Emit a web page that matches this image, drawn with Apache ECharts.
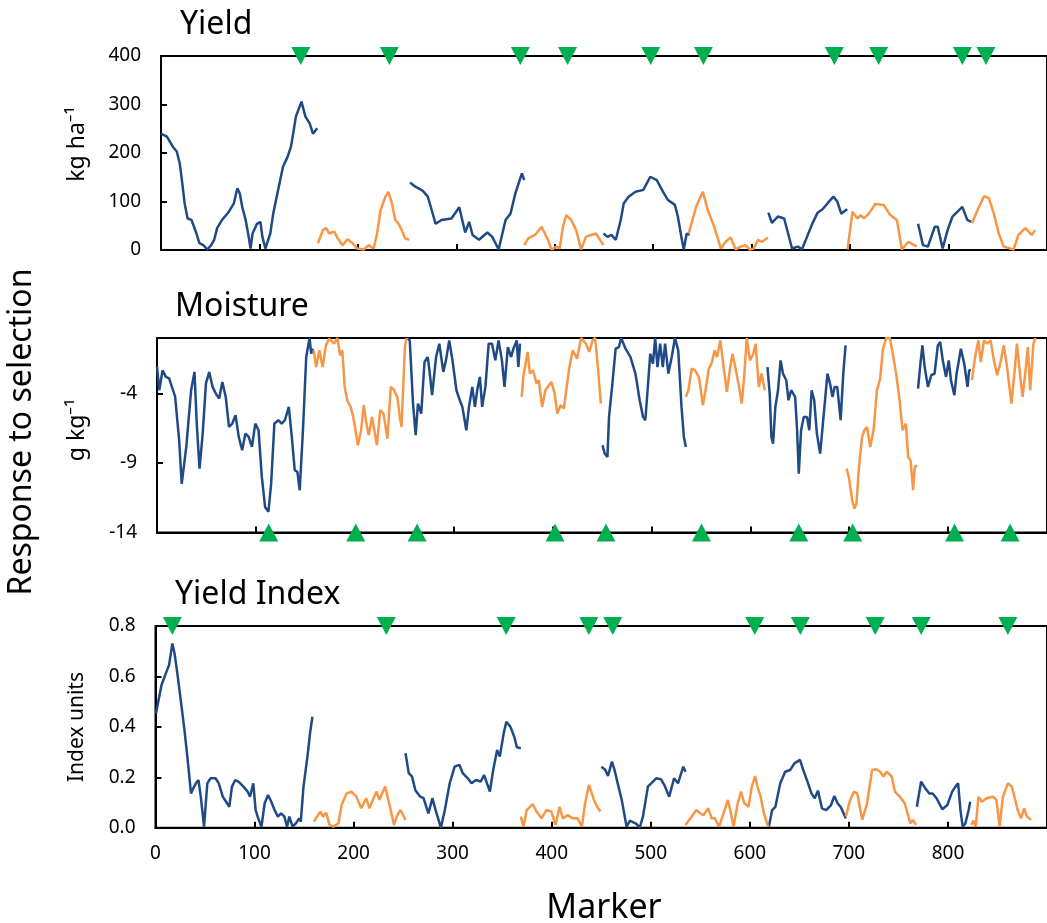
<!DOCTYPE html>
<html>
<head>
<meta charset="utf-8">
<script src="https://cdn.jsdelivr.net/npm/echarts@6/dist/echarts.min.js"></script>
<style>html,body{margin:0;padding:0;background:#fff;}#c{width:1047px;height:923px;}</style>
</head>
<body>
<div id="c"></div>
<script>
// ---------- DATA ----------
const panelTitles = ['Yield', 'Moisture', 'Yield Index'];
const unitNames = ['kg ha⁻¹', 'g kg⁻¹', 'Index units'];

// Yield (kg ha-1)
const yieldBlue = [
  [[0,240],[6,234],[12,213],[16,203],[19,179],[22,131],[24,96],[27,65],[31,62],[36,34],[39,14],[43,10],[47,1],[51,10],[54,21],[57,45],[62,62],[69,79],[74,96],[77.5,127],[80,117],[82.5,89],[86,62],[88.5,34],[91,3],[93,34],[97.5,54],[101,58],[103,27],[106,3],[108,3],[111,34],[114,75],[119,124],[124,172],[128.6,192],[132,213],[134.3,240],[137,275],[142.7,306],[146.7,275],[151,261],[154.4,240],[158.7,251]],
  [[253,139],[258,131],[266,122],[271,110],[275,82],[279,54],[285,62],[295,65],[303,88],[306,62],[309,36],[313,58],[316.5,31],[323,21],[331.5,36],[336.5,27],[343,1],[350,62],[355,75],[360,117],[366.6,158],[369,144]],
  [[449.5,34],[453.5,27],[457.5,31],[462,21],[467,62],[470,96],[475,110],[482,120],[490,124],[497,151],[503.6,144],[510,120],[515,103],[522,93],[525,69],[528.6,27],[531,1],[534,34],[537,31]],
  [[617,77],[620.5,56],[626.6,69],[633,65],[637,34],[641,3],[647,7],[651,1],[655.6,24],[662,56],[667,77],[672,84],[677,96],[683,110],[687,100],[691,75],[697,84]],
  [[769,54],[774,10],[779,7],[786,48],[789,48],[794,3],[799,41],[804,69],[814,89],[819,62],[823,58]]
];
const yieldOrange = [
  [[159.4,14],[164.4,41],[167.7,45],[171,34],[176,38],[179.5,24],[184.5,10],[189.5,22],[194.5,14],[199.5,3],[206,1],[211,10],[216,3],[219.5,34],[223,82],[228,110],[231,120],[234.6,96],[238,62],[241,55],[244.6,41],[248,24],[252.3,21]],
  [[369,10],[373,24],[380,31],[386.6,48],[393,21],[396.7,1],[401.7,7],[405,3],[408.3,48],[411.7,72],[416.7,62],[421.7,41],[426.7,1],[431.7,27],[436.7,31],[441.8,34],[445,24],[449.5,10]],
  [[536,34],[543.6,89],[550.4,120],[555.4,82],[562,48],[568.7,3],[573.7,17],[578.7,26],[583.7,1],[588.7,7],[593.8,10],[597.8,1],[602,3],[606.5,21],[610.5,17],[616.5,26]],
  [[697.4,1],[702.4,79],[707.4,65],[710.7,72],[714,65],[719,75],[725.6,95],[734,93],[740.8,72],[747.5,62],[752.6,1],[759.3,17],[767.6,7]],
  [[823.8,55],[829.4,82],[836,111],[841,107],[846,75],[851,34],[856,7],[866,1],[871,31],[878,45],[884.5,31],[888,41]]
];
const yieldMarkers = [142, 232, 365, 413, 497.5, 551, 684, 729, 814, 838];

// Moisture (g kg-1)
const moistBlue = [
  [[0,-2.04],[2.3,-3.76],[5.6,-2.33],[9,-2.8],[12.3,-2.9],[15,-3.5],[18.3,-4.2],[22.4,-7.36],[25,-10.5],[29.6,-7.84],[34.5,-3.76],[37.9,-2.44],[40.2,-6.16],[43,-9.4],[46.2,-6.88],[49.5,-3.28],[52.8,-2.44],[56.2,-3.52],[59.5,-4.0],[62.8,-4.36],[66.1,-3.16],[69.5,-4.24],[72.8,-6.4],[76.1,-6.16],[79.4,-5.56],[82.7,-7.12],[86.1,-8.08],[89.4,-6.88],[92.7,-7.12],[96,-7.84],[99.4,-6.16],[102.7,-6.64],[106,-10],[109.3,-12.16],[112.7,-12.5],[115.4,-10.5],[118.7,-6.16],[122.7,-5.92],[126,-6.16],[129.3,-5.92],[133.3,-4.96],[136,-6.88],[139.3,-9.52],[142,-9.64],[144.3,-10.96],[147.6,-6.64],[150.9,-1.37],[154.3,0],[155.9,-1.13],[157.6,-0.77]],
  [[253,0],[255.6,-0.17],[258.9,-4.72],[261.6,-7],[263.9,-4.72],[267.2,-5.44],[270.5,-1.73],[273.8,-1.37],[275.5,-2.33],[278.2,-4.12],[282.2,-1.37],[285.5,-0.41],[289.5,-2.44],[292.2,-1.61],[295.5,-0.17],[298.8,-1.61],[302.8,-3.76],[306.2,-4.48],[308.8,-4.96],[312.8,-6.64],[315.5,-4.96],[318.8,-3.52],[321.5,-4.96],[323.8,-3.76],[326.5,-2.8],[328.8,-4.96],[332.1,-3.52],[335.4,-0.41],[338.8,-0.41],[342.1,-1.61],[345.4,-0.17],[348.8,-1.61],[351.4,-3.52],[354.8,-0.65],[358.1,-1.37],[360.4,-0.77],[363.8,-0.17],[365.4,-2.09],[367.1,-0.41]],
  [[450.5,-7.72],[452.8,-8.32],[455.5,-8.56],[457.1,-5.68],[460.5,-3.28],[463.8,-0.77],[467.1,-0.65],[469.4,0],[473.8,-0.77],[478.8,-1.37],[483.8,-2.56],[488.1,-4.48],[491.5,-5.68],[493.8,-5.92],[496.1,-3.76],[498.8,-1.13],[501.5,-1.85],[503.8,0],[506.1,-2.09],[508.8,-0.41],[511.5,-2.09],[513.8,-0.41],[517.1,-2.56],[520.5,-1.37],[523.8,0],[527.1,-0.89],[530.4,-4.96],[532.8,-7.12],[534.8,-7.84]],
  [[617.3,-2.09],[619.6,-4.0],[621.3,-7.12],[623,-7.6],[625.3,-4.96],[628,-3.76],[630.6,-1.61],[633,-2.56],[636.3,-3.04],[638.6,-4.48],[641.3,-3.76],[645.3,-4.24],[647.3,-6.64],[649,-9.76],[651.3,-6.64],[654,-5.68],[657.3,-5.68],[659.6,-6.64],[662,-3.76],[664.6,-4.48],[667.3,-6.88],[670.6,-8.32],[674,-5.68],[678,-2.56],[680.6,-3.28],[683,-4.24],[685.3,-3.52],[687.9,-3.52],[691.3,-5.92],[694,-2.56],[696.3,-0.53]],
  [[769.6,-3.64],[772,-1.85],[774,-0.53],[776.3,-2.09],[779.6,-3.52],[783,-2.68],[786.3,-2.56],[789.6,-0.53],[792,-0.29],[794.6,-1.61],[797.9,-2.8],[800.6,-1.61],[802.9,-3.04],[806.3,-4.12],[808.6,-2.56],[812.9,-0.77],[816.3,-1.85],[819.6,-3.52],[821.3,-2.33],[823,-2.33]]
];
const moistOrange = [
  [[158.5,-0.89],[160.9,-2.09],[164.2,-0.89],[167.5,-2.09],[170.8,-0.53],[174.1,-0.05],[179.1,-0.41],[182.4,0],[185.1,-1.25],[187.4,-0.89],[189.8,-3.52],[192.4,-4.48],[195.8,-4.96],[198.4,-5.68],[200.8,-6.64],[203.1,-7.72],[206.4,-6.64],[209.1,-4.84],[211.7,-6.16],[214.1,-7.0],[217.4,-5.68],[219.7,-6.64],[222.4,-7.72],[225.7,-5.2],[229,-5.44],[233,-7.24],[236.4,-3.52],[239.7,-3.76],[243,-4.24],[245.7,-5.8],[247.3,-6.4],[250.7,-0.65],[252.3,0]],
  [[368.8,-4.24],[370.4,-2.8],[374.8,-1.0],[377.1,-2.56],[380.4,-2.33],[383.8,-3.28],[386.1,-3.04],[389.4,-4.96],[392.8,-3.76],[398.8,-3.16],[402.1,-4.0],[404.8,-5.44],[408.1,-4.84],[411.4,-5.08],[413.8,-3.76],[417.1,-2.09],[420.4,-0.89],[424.8,-1.49],[428.8,0],[433.8,-0.41],[437.1,-1.0],[440.5,-0.17],[443.1,0],[446.1,-2.33],[448.8,-4.72]],
  [[534.7,-4.24],[537.4,-3.76],[540.7,-2.2],[544,-2.33],[548,-2.8],[552,-4.84],[554.7,-3.76],[558,-2.2],[560.7,-1.85],[564,-0.89],[566.3,-1.37],[569.7,-0.17],[573,-2.09],[576.3,-3.88],[579.7,-2.09],[582,-1.13],[584.7,-2.09],[588,-3.28],[591.3,-4.72],[594,-2.56],[596.3,0],[599.6,-1.61],[603,-1.13],[605.3,-0.41],[608.6,-3.52],[611.3,-2.56],[614.6,-3.76]],
  [[697.3,-9.4],[699.6,-10],[703,-11.68],[705.3,-12.28],[707.3,-11.92],[709.6,-9.52],[713,-7.12],[715.3,-6.64],[717.9,-6.4],[721.3,-7.84],[724.6,-6.64],[728,-3.76],[731.3,-2.92],[733.9,-0.89],[737.3,0],[741.2,0],[744.6,-1.37],[747.9,-2.8],[751.3,-4.72],[753.9,-6.64],[757.3,-6.16],[759.6,-8.56],[762,-8.8],[764.6,-10.96],[766.3,-9.28],[768.6,-9.16]],
  [[824,-3.04],[827.3,-1.37],[830.6,-0.17],[833,-1.73],[836.3,-0.17],[839.6,-0.41],[843,-0.17],[846.3,-1.61],[849.6,-2.68],[853,-1.73],[856.3,-0.53],[859.6,-2.09],[864,-4.72],[867.3,-2.33],[869.6,-0.41],[873,-2.8],[875.3,-4.24],[878,-2.56],[880.6,-0.65],[883,-3.76],[886.3,-0.41],[888.3,0]]
];
const moistMarkers = [113, 201, 263, 402.5, 454, 550.6, 649, 703.5, 806.5, 862.7];

// Yield Index (index units)
const indexBlue = [
  [[0.5,0.453],[3.8,0.52],[6.1,0.566],[7.8,0.56],[11.1,0.619],[13.7,0.645],[17,0.731],[19.2,0.692],[22.5,0.599],[25.9,0.493],[29.2,0.388],[32.5,0.269],[35.8,0.136],[38.1,0.156],[40.8,0.176],[43.4,0.189],[45.7,0.123],[49,0.004],[52.3,0.176],[55.6,0.196],[60.6,0.196],[63.9,0.176],[67.9,0.123],[72.2,0.097],[74.5,0.083],[77.2,0.163],[80.5,0.189],[83.8,0.183],[88.8,0.163],[93.1,0.143],[95.4,0.123],[98.7,0.176],[101.1,0.07],[103.7,0.037],[107,0.004],[110.2,0.097],[113.6,0.13],[116.9,0.103],[120.2,0.07],[123.5,0.044],[126.8,0.057],[130.1,0.044],[132.8,0.004],[135.1,0.044],[138.4,0.004],[141.7,0.017],[145,0.037],[146.7,0.024],[149.4,0.163],[153.4,0.282],[156,0.374],[158.4,0.44]],
  [[252.4,0.295],[255.7,0.216],[259,0.203],[262.3,0.149],[267.3,0.123],[270.6,0.117],[275.5,0.057],[279.5,0.117],[282.8,0.07],[288.1,0],[292.1,0.07],[297,0.176],[302,0.242],[306.9,0.249],[310.2,0.216],[315.2,0.196],[319.1,0.176],[323.4,0.189],[328.4,0.183],[331.7,0.209],[337.6,0.143],[340.9,0.229],[344.9,0.308],[347.6,0.282],[351.5,0.374],[354.2,0.42],[358.2,0.401],[362.2,0.361],[364.8,0.319],[368.8,0.315]],
  [[450.2,0.242],[454.2,0.229],[456.8,0.205],[460.8,0.262],[463.4,0.229],[467.4,0.163],[470.7,0.11],[475.6,0.004],[478.9,0.028],[485.5,0.015],[488.8,0],[492.1,0.044],[497.1,0.163],[500.4,0.176],[505.4,0.196],[510.3,0.192],[513.6,0.17],[518.6,0.123],[523.5,0.196],[527.5,0.176],[532.8,0.242],[535.1,0.222]],
  [[619.2,0.004],[622.5,0.07],[625.8,0.083],[630.7,0.176],[635.7,0.222],[640.7,0.229],[645,0.255],[650.6,0.269],[653.9,0.229],[658.2,0.183],[662.2,0.136],[665.5,0.117],[668.8,0.147],[672.8,0.077],[677.1,0.07],[682,0.09],[685.3,0.126],[688.6,0.097],[691.9,0.081],[696.9,0.037]],
  [[768.6,0.083],[772.9,0.183],[777.2,0.156],[781.2,0.136],[784.5,0.136],[788.4,0.117],[794.4,0.073],[799.4,0.09],[804.3,0.143],[807.6,0.163],[810.3,0.176],[812.6,0.07],[814.9,0.004],[817.6,0.017],[820.9,0.07],[822.5,0.103]]
];
const indexOrange = [
  [[159.8,0.024],[163.1,0.044],[166.4,0.064],[169.1,0.044],[172.3,0.06],[175.6,0.011],[179.6,0.004],[184.6,0.017],[187.9,0.09],[192.9,0.136],[197.8,0.143],[202.8,0.123],[207.7,0.077],[212.7,0.117],[216,0.077],[219.3,0.11],[223.2,0.143],[225.9,0.11],[231.9,0.163],[235.8,0.097],[240.8,0.011],[244.1,0.05],[247.4,0.07],[252.4,0.031]],
  [[368.8,0.044],[371.5,0.004],[374.8,0.07],[380.7,0.094],[384.7,0.064],[389.7,0.037],[394.6,0.07],[399.6,0.064],[403.9,0.011],[407.9,0.083],[411.2,0.037],[416.2,0.05],[421.1,0.037],[426.1,0.037],[430.4,0.004],[433.7,0.097],[437.6,0.17],[442.6,0.11],[445.9,0.083],[449.2,0.064]],
  [[535,0.011],[540,0.037],[545.9,0.07],[549.9,0.057],[553.2,0.05],[558.1,0.077],[561.4,0.037],[564.7,0.037],[569,0.004],[572.3,0.044],[577.9,0.11],[580.2,0.07],[583.5,0.004],[587.8,0.097],[591.1,0.143],[594.4,0.097],[598.7,0.083],[602,0.163],[605.3,0.205],[607.6,0.163],[610.9,0.123],[614.2,0.057],[618.5,0.004]],
  [[696.9,0.044],[701.2,0.11],[705.2,0.143],[708.5,0.136],[713.4,0.031],[718.4,0.097],[723.4,0.229],[727.7,0.232],[731.6,0.222],[734.9,0.203],[738.2,0.222],[743.2,0.203],[746.5,0.143],[751.4,0.123],[756.4,0.097],[762,0.017],[764.6,0.031],[767.9,0.011]],
  [[823.5,0.011],[825.8,0.028],[828.1,0.004],[830.8,0.123],[834.1,0.103],[839,0.117],[845.6,0.123],[848.9,0.11],[852.2,0.004],[855.5,0.123],[860.5,0.176],[864.5,0.163],[867.1,0.123],[870.4,0.07],[873.7,0.037],[877,0.077],[879.7,0.044],[884,0.031]]
];
const indexMarkers = [17, 233, 354, 437.5, 461.6, 605, 651, 726.6, 773, 860.5];

const yRanges = [[0, 400, 100], [-14, 0, 5], [0, 0.8, 0.2]];

// ---------- CHART ----------
const FONT = 'Noto Sans';
const BLUE = '#1F4A86', ORANGE = '#F79646', GREEN = '#00B050';
const chart = echarts.init(document.getElementById('c'), null, {renderer: 'canvas'});

const grids = [
  {left: 161, top: 56, height: 194, width: 898},
  {left: 157, top: 338, height: 194.5, width: 903},
  {left: 155.5, top: 626, height: 201.7, width: 907.6}
].map(g => Object.assign({show: true, borderColor: '#000', borderWidth: 2, backgroundColor: 'transparent', containLabel: false}, g));

const xAxes = [0, 1, 2].map(i => ({
  gridIndex: i, type: 'value', min: 0, max: 900, interval: 100,
  axisLine: {show: true, onZero: false, lineStyle: {color: '#000', width: 2}},
  axisTick: {show: true, inside: true, length: 6, lineStyle: {color: '#000', width: 2}},
  axisLabel: {show: i === 2, fontSize: 19, color: '#000', fontFamily: FONT, margin: 16, showMaxLabel: false},
  splitLine: {show: false}
}));

const yAxes = [0, 1, 2].map(i => ({
  gridIndex: i, type: 'value', min: yRanges[i][0], max: yRanges[i][1], interval: yRanges[i][2],
  axisLine: {show: true, onZero: false, lineStyle: {color: '#000', width: 2}},
  axisTick: {show: true, inside: true, length: 6, lineStyle: {color: '#000', width: 2}},
  axisLabel: {fontSize: 19, color: '#000', fontFamily: FONT, margin: 20,
    showMaxLabel: i !== 1,
    formatter: v => i === 2 ? v.toFixed(1) : String(Math.round(v))},
  splitLine: {show: false}
}));

const series = [];
function addLines(segs, color, gi) {
  segs.forEach(seg => series.push({
    type: 'line', xAxisIndex: gi, yAxisIndex: gi, data: seg, showSymbol: false, symbol: 'none',
    lineStyle: {color: color, width: 2.5}, itemStyle: {color: color}, silent: true, animation: false, z: 2
  }));
}
addLines(yieldBlue, BLUE, 0); addLines(yieldOrange, ORANGE, 0);
addLines(moistBlue, BLUE, 1); addLines(moistOrange, ORANGE, 1);
addLines(indexBlue, BLUE, 2); addLines(indexOrange, ORANGE, 2);

function addMarkers(xs, gi, yv, down) {
  series.push({
    type: 'scatter', xAxisIndex: gi, yAxisIndex: gi, data: xs.map(x => [x, yv]),
    symbol: 'triangle', symbolRotate: down ? 180 : 0, symbolSize: [19, 18],
    itemStyle: {color: GREEN, opacity: 1}, clip: false, silent: true, animation: false, z: 5
  });
}
addMarkers(yieldMarkers, 0, 400, true);
addMarkers(moistMarkers, 1, -14, false);
addMarkers(indexMarkers, 2, 0.8, true);

function txt(text, x, y, size, rot, align) {
  return {type: 'text', x: x, y: y, rotation: rot || 0, silent: true,
    style: {text: text, fill: '#000', fontSize: size, fontFamily: FONT,
      align: align || 'center', textAlign: align || 'center', verticalAlign: 'middle', textVerticalAlign: 'middle'}};
}
const R = Math.PI / 2;
const graphic = [
  txt(panelTitles[0], 180, 25, 32, 0, 'left'),
  txt(panelTitles[1], 175, 307, 32, 0, 'left'),
  txt(panelTitles[2], 175, 595, 32, 0, 'left'),
  txt('Response to selection', 22, 432, 32, R),
  txt(unitNames[0], 77, 144, 23, R),
  txt(unitNames[1], 77, 430, 23, R),
  txt(unitNames[2], 77, 727, 21, R),
  txt('Marker', 604, 908, 34, 0)
];

chart.setOption({
  animation: false,
  backgroundColor: '#fff',
  grid: grids, xAxis: xAxes, yAxis: yAxes, series: series, graphic: graphic
});
</script>
</body>
</html>
